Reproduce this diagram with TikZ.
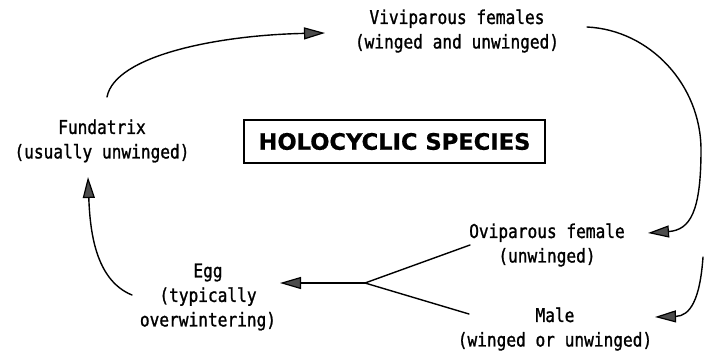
\documentclass[tikz,border=0pt]{standalone}
\usepackage{fontspec}
\usetikzlibrary{arrows.meta}
\newfontfamily\lblfont[FakeStretch=0.85,FakeBold=1.2]{DejaVu Sans Mono}
\newfontfamily\ttlfont[FakeBold=0.8]{DejaVu Sans}
\tikzset{
  lbl/.style={align=center, inner sep=0pt, font=\lblfont\fontsize{19}{24.5}\selectfont},
  ttl/.style={draw, line width=1.6pt, minimum width=301pt, minimum height=43pt, inner sep=0pt,
              font=\ttlfont\bfseries\fontsize{22.6}{26}\selectfont},
  conn/.style={line width=1.4pt, line cap=round},
  arr/.style={conn, -{Triangle[length=21pt,width=12pt,fill=black!70,line width=1.2pt]}},
}
\begin{document}
\begin{tikzpicture}[x=1pt,y=-1pt]
\useasboundingbox (0,0) rectangle (704,354);
% labels
\node[lbl] (viv) at (457,31) {Viviparous females\\(winged and unwinged)};
\node[lbl] (fund) at (102,141) {Fundatrix\\(usually unwinged)};
\node[lbl] (egg) at (208,297) {Egg\\(typically\\overwintering)};
\node[lbl] (ovi) at (547,245) {Oviparous female\\(unwinged)};
\node[lbl] (male) at (555,329) {Male\\(winged or unwinged)};
\node[ttl] (title) at (394.5,141.5) {HOLOCYCLIC SPECIES};
% connector end points
\coordinate (fundTop) at (107,97);
\coordinate (vivIn) at (325,33);
\coordinate (vivOut) at (587,27);
\coordinate (rightMid) at (701,150);
\coordinate (oviIn) at (648,233);
\coordinate (split) at (703,257);
\coordinate (maleIn) at (655,317);
\coordinate (oviOut) at (470,245);
\coordinate (maleOut) at (469,314);
\coordinate (fork) at (365,283);
\coordinate (eggIn) at (280,283);
\coordinate (eggOut) at (132,295);
\coordinate (fundIn) at (88,177);
% connectors
\draw[arr] (fundTop) .. controls (115,55) and (220,35) .. (vivIn);
\draw[arr] (vivOut) .. controls (650,30) and (701,85) .. (rightMid)
              .. controls (701,212) and (690,230) .. (oviIn);
\draw[arr] (split) .. controls (700,300) and (690,316) .. (maleIn);
\draw[conn] (oviOut) -- (fork) -- (maleOut);
\draw[arr] (fork) -- (eggIn);
\draw[arr] (eggOut) .. controls (95,280) and (90,230) .. (fundIn);
\end{tikzpicture}
\end{document}
